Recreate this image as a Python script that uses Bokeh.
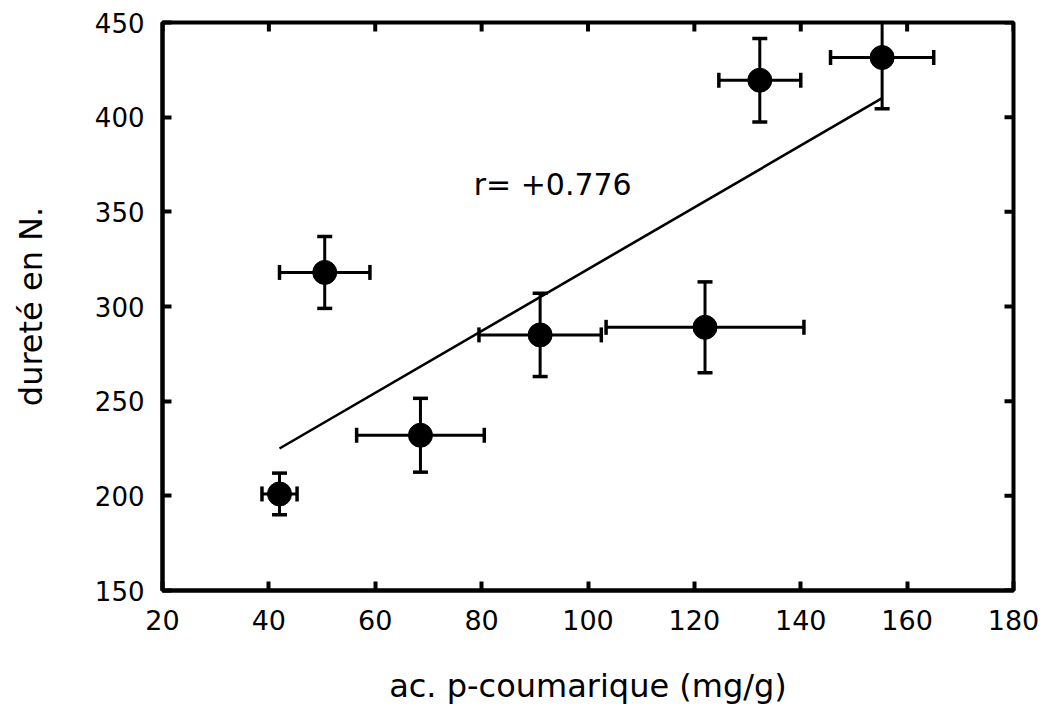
from bokeh.plotting import figure
from bokeh.models import Range1d, LinearAxis, FixedTicker
from bokeh.core.properties import value
from bokeh.embed import file_html
from bokeh.resources import INLINE
import math

# data
acid = [42, 50.5, 68.5, 91, 122, 132.3, 155.3]          # ac. p-coumarique (mg/g)
acid_err = [3.3, 8.5, 12, 11.5, 18.6, 7.7, 9.7]
hardness = [201, 318, 232, 285, 289, 419.5, 431.5]     # dureté en N.
hardness_err = [11, 19, 19.5, 22, 24, 22, 27]
fit_x = [42, 155.3]
fit_y = [225, 410]
r_text = "r=  +0.776"
x_title = "ac. p-coumarique (mg/g)"
y_title = "dureté en N."
x_ticks = [20, 40, 60, 80, 100, 120, 140, 160, 180]
y_ticks = [150, 200, 250, 300, 350, 400, 450]

FONT = "DejaVu Sans"
X0, X1, Y0, Y1 = 20, 180, 150, 450

p = figure(width=1050, height=709, output_backend="svg", toolbar_location=None,
           x_range=Range1d(X0, X1), y_range=Range1d(Y0, Y1),
           min_border_left=162, min_border_right=37, min_border_top=22,
           min_border_bottom=119, x_axis_location=None, y_axis_location=None)
p.grid.visible = False
p.outline_line_color = "black"
p.outline_line_width = 4
p.background_fill_color = "white"
p.border_fill_color = "white"

def style(ax):
    ax.axis_line_width = 4
    ax.axis_line_color = "black"
    ax.major_tick_in = 9
    ax.major_tick_out = 0
    ax.major_tick_line_width = 4
    ax.minor_tick_line_color = None
    ax.major_label_text_font = FONT
    ax.major_label_text_color = "black"
    ax.axis_label_text_font = FONT
    ax.axis_label_text_font_size = "32px"
    ax.axis_label_text_font_style = "normal"
    ax.axis_label_text_color = "black"

xb = LinearAxis(ticker=FixedTicker(ticks=x_ticks), axis_label=x_title)
style(xb)
xb.major_label_text_font_size = "27px"
xb.major_label_standoff = 19
xb.axis_label_standoff = 34
p.add_layout(xb, "below")

yl = LinearAxis(ticker=FixedTicker(ticks=y_ticks), axis_label=y_title)
style(yl)
yl.major_label_text_font_size = "26px"
yl.major_label_standoff = 18
yl.axis_label_standoff = 42
p.add_layout(yl, "left")

# inner ticks on the top and right edges (clipped half-dashes on the frame)
p.scatter(x_ticks, [Y1] * len(x_ticks), marker="dash", size=18, angle=math.pi / 2,
          line_color="black", line_width=4)
p.scatter([X1] * len(y_ticks), y_ticks, marker="dash", size=18,
          line_color="black", line_width=4)

# regression line
p.line(fit_x, fit_y, line_color="black", line_width=2.6)

# error bars
x_lo = [x - e for x, e in zip(acid, acid_err)]
x_hi = [x + e for x, e in zip(acid, acid_err)]
y_lo = [y - e for y, e in zip(hardness, hardness_err)]
y_hi = [y + e for y, e in zip(hardness, hardness_err)]
p.segment(x0=x_lo, y0=hardness, x1=x_hi, y1=hardness, line_color="black", line_width=3)
p.segment(x0=acid, y0=y_lo, x1=acid, y1=y_hi, line_color="black", line_width=3)
p.scatter(x_lo + x_hi, hardness + hardness, marker="dash", size=15, angle=math.pi / 2,
          line_color="black", line_width=3.5)
p.scatter(acid + acid, y_lo + y_hi, marker="dash", size=15,
          line_color="black", line_width=3.5)

# points
p.scatter(acid, hardness, marker="circle", size=24, fill_color="black", line_color="black")

p.text(x=[78.5], y=[364.5], text=[r_text], text_font=value(FONT), text_font_size="30px",
       text_baseline="alphabetic", text_align="left", text_color="black")

open("out.html", "w").write(file_html(p, INLINE))
